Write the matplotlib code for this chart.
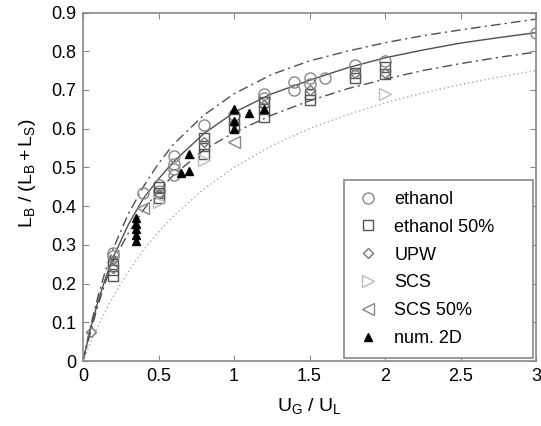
import matplotlib
matplotlib.use("Agg")
import matplotlib.pyplot as plt

plt.rcParams['font.family'] = ['Liberation Sans', 'DejaVu Sans']
plt.rcParams['mathtext.fontset'] = 'custom'
plt.rcParams['mathtext.rm'] = 'Liberation Sans'
plt.rcParams['mathtext.it'] = 'Liberation Sans'

# model curves
curve_x = [0, 0.05, 0.1, 0.15, 0.2, 0.3, 0.4, 0.5, 0.6, 0.8, 1.0, 1.25, 1.5, 1.75, 2.0, 2.25, 2.5, 2.75, 3.0]
solid_y = [0, 0.084, 0.155, 0.215, 0.268, 0.352, 0.42, 0.47, 0.515, 0.587, 0.642, 0.69, 0.725, 0.757, 0.783, 0.803, 0.821, 0.835, 0.848]
upper_y = [0, 0.09, 0.168, 0.235, 0.29, 0.38, 0.45, 0.51, 0.56, 0.635, 0.69, 0.74, 0.775, 0.80, 0.822, 0.84, 0.855, 0.869, 0.883]
lower_y = [0, 0.075, 0.145, 0.205, 0.258, 0.33, 0.39, 0.44, 0.48, 0.545, 0.59, 0.635, 0.672, 0.703, 0.728, 0.75, 0.768, 0.784, 0.798]
dotted_y = [0, 0.048, 0.091, 0.13, 0.167, 0.231, 0.286, 0.333, 0.375, 0.444, 0.5, 0.556, 0.6, 0.636, 0.667, 0.692, 0.714, 0.733, 0.75]

eth_x = [0.2, 0.2, 0.4, 0.5, 0.5, 0.6, 0.6, 0.6, 0.6, 0.8, 1.0, 1.2, 1.2, 1.4, 1.4, 1.5, 1.5, 1.6, 1.8, 2.0, 3.0]
eth_y = [0.28, 0.27, 0.435, 0.455, 0.44, 0.53, 0.51, 0.495, 0.48, 0.61, 0.635, 0.69, 0.68, 0.72, 0.70, 0.73, 0.715, 0.73, 0.765, 0.775, 0.847]

eth50_x = [0.2, 0.2, 0.2, 0.5, 0.5, 0.5, 0.8, 0.8, 0.8, 1.0, 1.0, 1.2, 1.2, 1.2, 1.5, 1.5, 1.8, 1.8, 2.0, 2.0]
eth50_y = [0.25, 0.235, 0.22, 0.45, 0.435, 0.42, 0.575, 0.555, 0.535, 0.625, 0.605, 0.67, 0.65, 0.63, 0.69, 0.675, 0.745, 0.73, 0.76, 0.74]

upw_x = [0.05, 0.2, 0.2, 0.5, 0.8, 1.0, 1.2, 1.5, 1.8, 2.0]
upw_y = [0.075, 0.26, 0.24, 0.43, 0.565, 0.615, 0.66, 0.70, 0.745, 0.745]

scs_x = [0.5, 0.8, 2.0]
scs_y = [0.41, 0.52, 0.69]

scs50_x = [0.4, 1.0]
scs50_y = [0.395, 0.565]

num_x = [0.35, 0.35, 0.35, 0.35, 0.35, 0.65, 0.7, 0.7, 1.0, 1.0, 1.0, 1.1, 1.2]
num_y = [0.37, 0.355, 0.34, 0.325, 0.31, 0.485, 0.49, 0.535, 0.65, 0.62, 0.60, 0.64, 0.65]

x_ticks = [0, 0.5, 1, 1.5, 2, 2.5, 3]
x_ticklabels = ['0', '0.5', '1', '1.5', '2', '2.5', '3']
y_ticks = [0, 0.1, 0.2, 0.3, 0.4, 0.5, 0.6, 0.7, 0.8, 0.9]
y_ticklabels = ['0', '0.1', '0.2', '0.3', '0.4', '0.5', '0.6', '0.7', '0.8', '0.9']

fig = plt.figure(figsize=(5.41, 4.26), dpi=100)
ax = fig.add_axes([83/541, 1-361/426, 453/541, 348.5/426])

ax.plot(curve_x, upper_y, color='#505050', lw=1.0, ls=(0, (7, 3, 1.5, 3)))
ax.plot(curve_x, solid_y, color='#505050', lw=1.0, ls='-')
ax.plot(curve_x, lower_y, color='#505050', lw=1.0, ls=(0, (7, 3, 1.5, 3)))
ax.plot(curve_x, dotted_y, color='#aaaaaa', lw=1.0, ls=(0, (1, 2)))

ax.plot(eth_x, eth_y, ls='none', marker='o', ms=8, mfc='none', mec='#888888', mew=1.0, label='ethanol')
ax.plot(eth50_x, eth50_y, ls='none', marker='s', ms=6.5, mfc='none', mec='#555555', mew=1.0, label='ethanol 50%')
ax.plot(upw_x, upw_y, ls='none', marker='D', ms=5.5, mfc='none', mec='#777777', mew=1.0, label='UPW')
ax.plot(scs_x, scs_y, ls='none', marker='>', ms=8, mfc='none', mec='#bbbbbb', mew=1.0, label='SCS')
ax.plot(scs50_x, scs50_y, ls='none', marker='<', ms=8, mfc='none', mec='#888888', mew=1.0, label='SCS 50%')
ax.plot(num_x, num_y, ls='none', marker='^', ms=6, mfc='black', mec='black', label='num. 2D')

ax.set_xlim(0, 3)
ax.set_ylim(0, 0.9)
ax.set_xticks(x_ticks)
ax.set_xticklabels(x_ticklabels)
ax.set_yticks(y_ticks)
ax.set_yticklabels(y_ticklabels)
ax.tick_params(direction='in', top=True, right=True, length=4, color='#888888', labelsize=13, pad=5)
for s in ax.spines.values():
    s.set_color('#888888')
    s.set_linewidth(1.2)

ax.set_xlabel(r'$\mathregular{U_G\ /\ U_L}$', fontsize=14, labelpad=8)
ax.set_ylabel(r'$\mathregular{L_B\ /\ (L_B + L_S)}$', fontsize=14)
ax.yaxis.set_label_coords(-0.10, 0.54)

leg = ax.legend(loc='lower left', bbox_to_anchor=(0.576, 0.009, 0.417, 0.5), mode='expand',
                borderaxespad=0, fontsize=13, labelspacing=0.6, handletextpad=0.7, borderpad=0.6,
                fancybox=False, framealpha=1, edgecolor='#888888', handlelength=1.5)
leg.get_frame().set_linewidth(1.2)

fig.savefig('out.png', dpi=100)
